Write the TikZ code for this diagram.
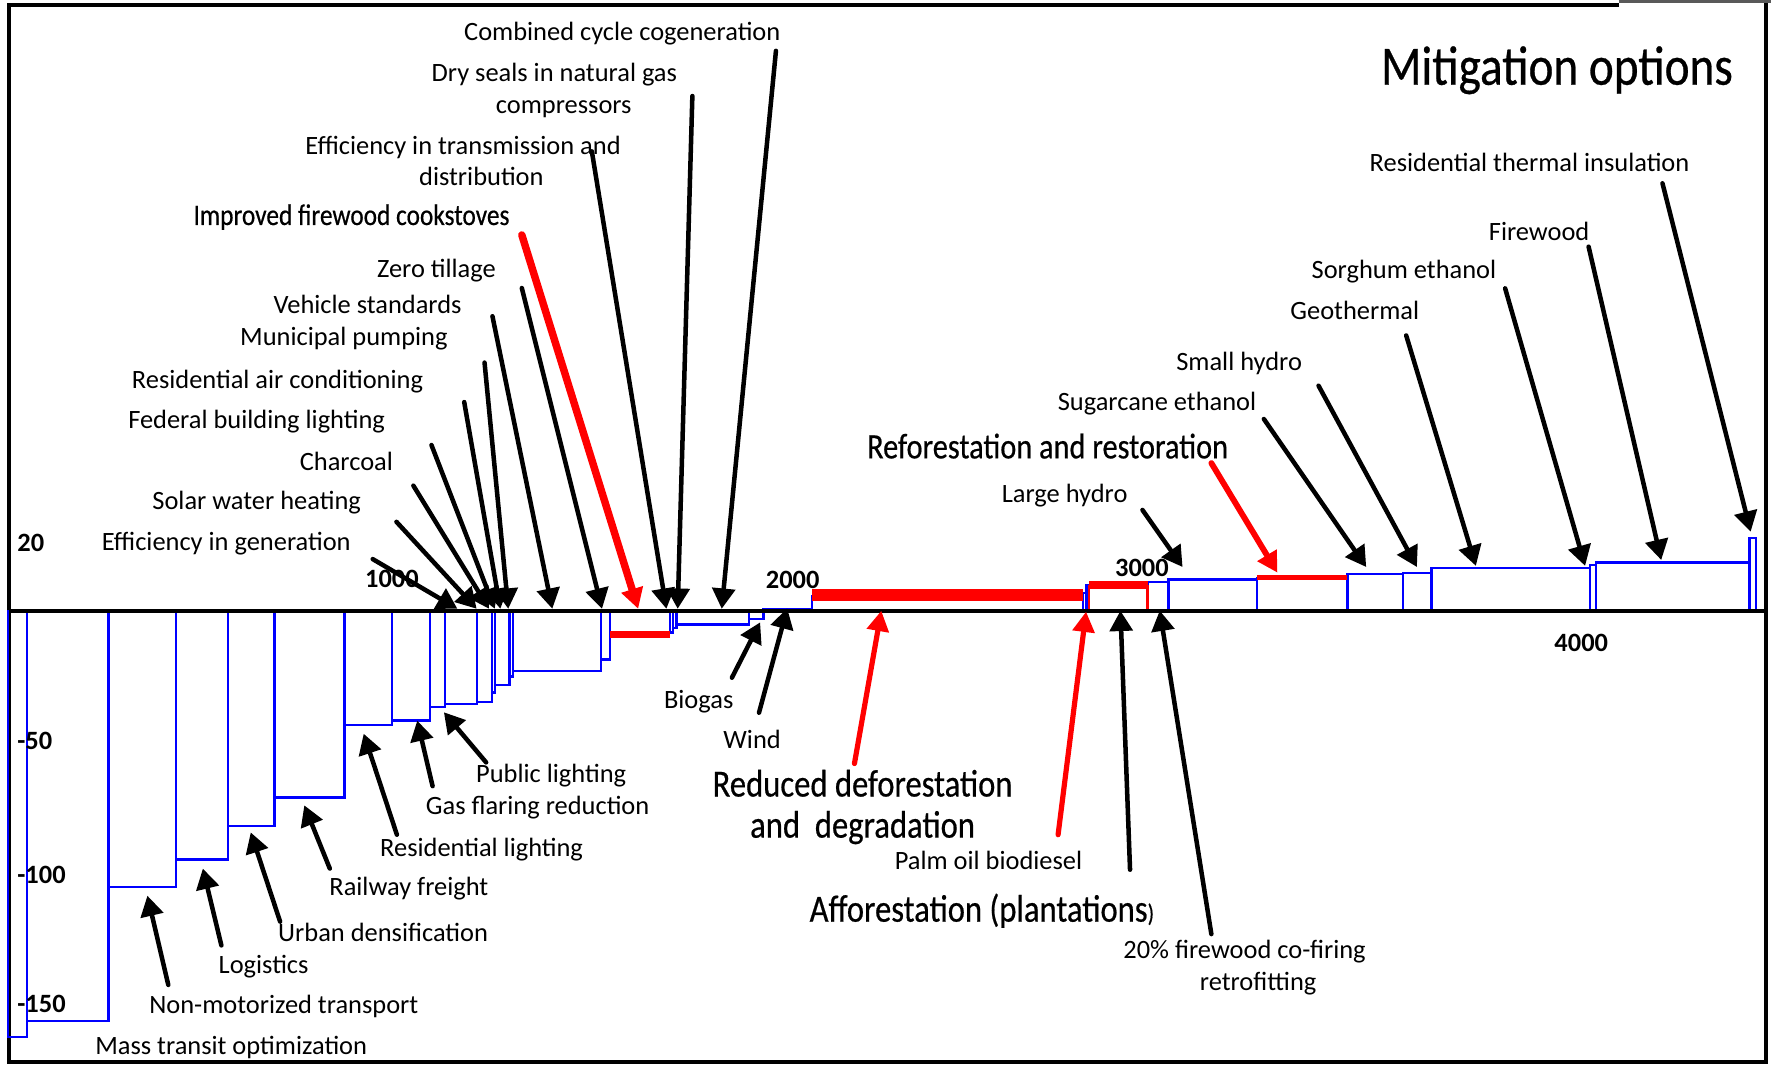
\documentclass[tikz,border=0pt]{standalone}
\usepackage{fontspec}
\setmainfont{Carlito}
\newfontfamily\narrowfont[FakeStretch=0.85,FakeBold=0.5]{Carlito}
\usetikzlibrary{arrows.meta}
\begin{document}
\begin{tikzpicture}[x=0.5pt,y=-0.5pt,
  lbl/.style={font=\fontsize{11.7}{14}\selectfont, inner sep=0pt, anchor=base},
  biglbl/.style={font=\narrowfont\fontsize{17}{18.2}\selectfont, inner sep=0pt, anchor=base},
  ticklbl/.style={font=\bfseries\fontsize{11.7}{14}\selectfont, inner sep=0pt, anchor=base},
  bar/.style={draw=blue, line width=1pt},
  redbar/.style={draw=red},
  ptr/.style={draw=black, line width=2pt, line cap=round, -{Triangle[length=9pt,width=10pt]}},
  redptr/.style={draw=red, line width=2.4pt, line cap=round, -{Triangle[length=9pt,width=9.5pt]}},
]
\useasboundingbox (0,0) rectangle (1568,943);

% frame
\draw[line width=1.75pt] (1433,4.2) -- (8,4.2) -- (8,940.2) -- (1563.3,940.2) -- (1563.3,3);
\draw[line width=1.5pt, black!65] (1433,1.5) -- (1568,1.5);

% cost curve: one blue box per option, from the zero line to its cost
\foreach \l/\r/\v in {7/24/918, 24/96/904, 96/156/785, 156/202/761, 202/243/731.5,
  243/305/706, 305/347/642, 347/381/638, 381/394/626, 394/422/623.5, 422/435.5/621.5,
  435.5/438.3/613, 438.3/451/606.5, 451/454/599, 454/532/594, 532/540/584,
  593/596/560, 596/599/556, 599/663/553, 663/676/548, 676/719/539,
  959/962/525, 962/964/518, 1016/1034.5/515, 1034.5/1113/513,
  1193/1242/508.5, 1242/1267.5/507, 1267.5/1408/503, 1408/1413/500,
  1413/1549/498, 1549/1554.5/476.5}
  \draw[bar] (\l,541) rectangle (\r,\v);
\draw[bar] (719,541) -- (719,527);
\draw[bar] (1113,513) -- (1113,511);

% forestry options
\draw[redbar, line width=3pt] (540,562) -- (593,562);
\draw[redbar, line width=5.2pt] (719,527) -- (959,527);
\draw[redbar, line width=3.2pt] (964,518) -- (1016,518);
\draw[redbar, line width=1pt] (964,541) -- (964,518) (1016,541) -- (1016,518);
\draw[redbar, line width=2.2pt] (1113,511.3) -- (1193,511.3);

% zero line
\draw[line width=1.4pt] (8,541) -- (1563.3,541);

% axis numbers
\node[ticklbl, anchor=base west] (y20) at (15,488.5) {20};
\node[ticklbl, anchor=base west] (y50) at (15,663.5) {-50};
\node[ticklbl, anchor=base west] (y100) at (15,782) {-100};
\node[ticklbl, anchor=base west] (y150) at (15,896.7) {-150};
\node[ticklbl] (x1000) at (347,520) {1000};
\node[ticklbl] (x2000) at (701.8,521) {2000};
\node[ticklbl] (x3000) at (1011,510) {3000};
\node[ticklbl] (x4000) at (1400,576.5) {4000};

% title
\node[inner sep=0pt, anchor=base east, font=\narrowfont\fontsize{24.6}{26}\selectfont] (title) at (1534.7,75) {Mitigation options};

% labels above the zero line
\node[lbl] (effgen) at (200.3,487.5) {Efficiency in generation};
\node[lbl] (solar) at (227.2,451) {Solar water heating};
\node[lbl] (charcoal) at (306.7,416.7) {Charcoal};
\node[lbl] (federal) at (227.2,379.2) {Federal building lighting};
\node[lbl] (resac) at (245.7,343.8) {Residential air conditioning};
\node[lbl] (munpump) at (304.5,306.3) {Municipal pumping};
\node[lbl] (vehstd) at (325.5,278) {Vehicle standards};
\node[lbl] (zerotill) at (386.4,245.5) {Zero tillage};
\node[lbl, font=\narrowfont\fontsize{13.2}{14}\selectfont] (cookstoves) at (311.2,199.2) {Improved firewood cookstoves};
\node[lbl, align=center] (efftrans) at (410,164.4) {Efficiency in transmission and\\\hspace*{16.2pt}distribution};
\node[lbl, align=center] (dryseals) at (490.8,100.3) {Dry seals in natural gas\\\hspace*{8.3pt}compressors};
\node[lbl] (combined) at (550.9,36) {Combined cycle cogeneration};
\node[lbl] (resthermal) at (1354.2,152) {Residential thermal insulation};
\node[lbl] (firewood) at (1362.7,213) {Firewood};
\node[lbl] (sorghum) at (1243,246.4) {Sorghum ethanol};
\node[lbl] (geothermal) at (1199.5,283) {Geothermal};
\node[lbl] (smallhydro) at (1097.1,327.6) {Small hydro};
\node[lbl] (sugarcane) at (1024.4,363) {Sugarcane ethanol};
\node[biglbl, anchor=base east, font=\narrowfont\fontsize{15.8}{17}\selectfont] (reforest) at (1087.7,405.8) {Reforestation and restoration};
\node[lbl] (largehydro) at (942.6,445) {Large hydro};

% labels below the zero line
\node[lbl] (masstransit) at (204.7,933.3) {Mass transit optimization};
\node[lbl] (nonmotor) at (251.3,897.3) {Non-motorized transport};
\node[lbl] (logistics) at (233.4,862) {Logistics};
\node[lbl] (urban) at (339.2,833.3) {Urban densification};
\node[lbl] (railway) at (362,792.7) {Railway freight};
\node[lbl] (reslight) at (426.4,758.3) {Residential lighting};
\node[lbl] (gasflare) at (476,721.3) {Gas flaring reduction};
\node[lbl] (publight) at (488,692.7) {Public lighting};
\node[lbl] (biogas) at (618.6,627.1) {Biogas};
\node[lbl] (wind) at (665.9,662.5) {Wind};
\node[biglbl, align=center] (reddef) at (763.7,741.6) {Reduced deforestation\\and~~degradation};
\node[lbl] (palmoil) at (875.2,769.6) {Palm oil biodiesel};
\node[biglbl, font=\narrowfont\fontsize{17}{18}\selectfont] (afforest) at (869.3,816) {Afforestation (plantations{\fontsize{11}{12}\selectfont)}};
\node[lbl, align=center] (cofiring) at (1101.9,877) {20\% firewood co-firing\\\hspace*{12pt}retrofitting};

% pointer ends
\coordinate (effgen-s) at (330,495);      \coordinate (effgen-t) at (405,539);
\coordinate (solar-s) at (351,462);       \coordinate (solar-t) at (422,539);
\coordinate (charcoal-s) at (366,430);    \coordinate (charcoal-t) at (433,539);
\coordinate (federal-s) at (382,394);     \coordinate (federal-t) at (438,539);
\coordinate (resac-s) at (411,356);       \coordinate (resac-t) at (443,539);
\coordinate (munpump-s) at (429,321);     \coordinate (munpump-t) at (450,539);
\coordinate (vehstd-s) at (436,280);      \coordinate (vehstd-t) at (489,539);
\coordinate (zerotill-s) at (462,255);    \coordinate (zerotill-t) at (533,539);
\coordinate (cookstoves-s) at (462,208);  \coordinate (cookstoves-t) at (565,539);
\coordinate (efftrans-s) at (524,134);    \coordinate (efftrans-t) at (590,539);
\coordinate (dryseals-s) at (613,85);     \coordinate (dryseals-t) at (600,539);
\coordinate (combined-s) at (687,45);     \coordinate (combined-t) at (639,539);
\coordinate (largehydro-s) at (1011.5,451.5); \coordinate (largehydro-t) at (1047,502);
\coordinate (reforest-s) at (1072.5,410);     \coordinate (reforest-t) at (1131,507);
\coordinate (sugarcane-s) at (1119,371);      \coordinate (sugarcane-t) at (1209.6,502);
\coordinate (smallhydro-s) at (1167.4,341.5); \coordinate (smallhydro-t) at (1254.5,502);
\coordinate (geothermal-s) at (1245,297);     \coordinate (geothermal-t) at (1306.7,501);
\coordinate (sorghum-s) at (1332.6,255.3);    \coordinate (sorghum-t) at (1403.4,501);
\coordinate (firewood-s) at (1406.5,218.4);   \coordinate (firewood-t) at (1470.8,495.8);
\coordinate (resthermal-s) at (1471.9,162.3); \coordinate (resthermal-t) at (1550,470.7);
\coordinate (nonmotor-s) at (149,872);    \coordinate (nonmotor-t) at (130.5,793);
\coordinate (logistics-s) at (196,837);   \coordinate (logistics-t) at (179.6,769);
\coordinate (urban-s) at (248,816);       \coordinate (urban-t) at (222,737);
\coordinate (railway-s) at (292,769);     \coordinate (railway-t) at (269.4,713);
\coordinate (reslight-s) at (351.4,739);  \coordinate (reslight-t) at (322,649.6);
\coordinate (gasflare-s) at (383,696);    \coordinate (gasflare-t) at (369.4,638);
\coordinate (publight-s) at (430.4,675);  \coordinate (publight-t) at (393,630.6);
\coordinate (biogas-s) at (648,600);      \coordinate (biogas-t) at (673,551);
\coordinate (wind-s) at (672,631);        \coordinate (wind-t) at (697,538.6);
\coordinate (reddef-s) at (756.5,676);    \coordinate (reddef-t) at (780.3,540.7);
\coordinate (afforest-s) at (936.8,739);  \coordinate (afforest-t) at (961.6,541.5);
\coordinate (palmoil-s) at (1000.5,770);  \coordinate (palmoil-t) at (992,540.7);
\coordinate (cofiring-s) at (1072.5,827); \coordinate (cofiring-t) at (1026.8,540.6);

% pointers
\foreach \n in {effgen,solar,charcoal,federal,resac,munpump,vehstd,zerotill,
  efftrans,dryseals,combined,largehydro,sugarcane,smallhydro,geothermal,sorghum,
  firewood,resthermal,nonmotor,logistics,urban,railway,reslight,gasflare,publight,
  biogas,wind,palmoil,cofiring}
  \draw[ptr] (\n-s) -- (\n-t);
\draw[redptr, line width=3.3pt] (cookstoves-s) -- (cookstoves-t);
\draw[redptr, line width=2.6pt] (reforest-s) -- (reforest-t);
\draw[redptr, line width=2.3pt] (reddef-s) -- (reddef-t);
\draw[redptr, line width=2.3pt] (afforest-s) -- (afforest-t);
\end{tikzpicture}
\end{document}
